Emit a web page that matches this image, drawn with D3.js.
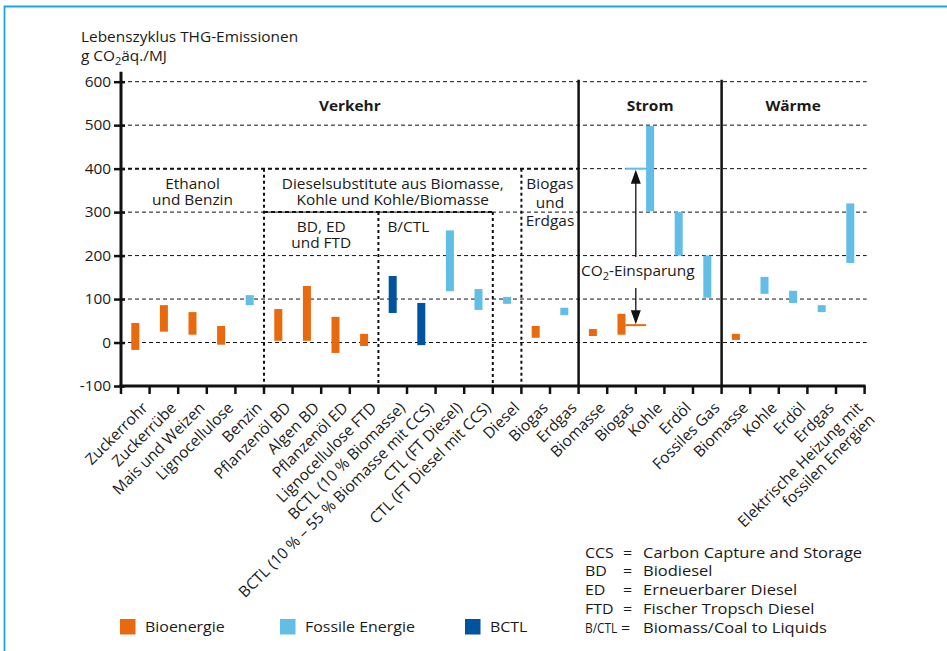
<!DOCTYPE html>
<html><head><meta charset="utf-8">
<script src="https://cdn.jsdelivr.net/npm/d3@7"></script>
<style>
body{margin:0;background:#fff;}
svg{display:block;}
text{font-family:"Open Sans",sans-serif;fill:#1a1a1a;}
</style></head><body>
<svg id="c" width="947" height="651"></svg>
<script>
// ---------- data ----------
const categories = ["Zuckerrohr","Zuckerrübe","Mais und Weizen","Lignocellulose","Benzin",
  "Pflanzenöl BD","Algen BD","Pflanzenöl ED","Lignocellulose FTD",
  "BCTL (10 % Biomasse)","BCTL (10 % – 55 % Biomasse mit CCS)","CTL (FT Diesel)","CTL (FT Diesel mit CCS)",
  "Diesel","Biogas","Erdgas",
  "Biomasse","Biogas","Kohle","Erdöl","Fossiles Gas",
  "Biomasse","Kohle","Erdöl","Erdgas","Elektrische Heizung mit|fossilen Energien"];
const lowValues  = [-17, 25, 18, -5, 86,   4,  4, -24, -8,  68, -6, 118, 75,  89,  11, 63,  15, 18, 302, 200, 103,   6, 112,  91, 70, 183];
const highValues = [ 45, 86, 70, 38, 109, 77, 130, 59, 20, 153, 91, 258, 123, 105, 38, 80,  31, 66, 498, 300, 200,  20, 151, 119, 86, 320];
const energyType = ["bio","bio","bio","bio","fossil","bio","bio","bio","bio","bctl","bctl","fossil","fossil","fossil","bio","fossil",
  "bio","bio","fossil","fossil","fossil","bio","fossil","fossil","fossil","fossil"];
const yTicks = [600,500,400,300,200,100,0,-100];
const sections = [{label:"Verkehr",from:0,to:16},{label:"Strom",from:16,to:21},{label:"Wärme",from:21,to:26}];
const groupLabels = [
  {text:"Ethanol|und Benzin", from:0, to:5, level:400},
  {text:"Dieselsubstitute aus Biomasse,|Kohle und Kohle/Biomasse", from:5, to:14, level:400},
  {text:"BD, ED|und FTD", from:5, to:9, level:300},
  {text:"B/CTL", from:9, to:13, level:300, left:true},
  {text:"Biogas|und|Erdgas", from:14, to:16, level:400, lh:"1.35em"}
];
const boxHLines = [[0,16,400],[5,13,300]];
const boxVLines = [[5,400],[9,300],[13,300],[14,400]];
const savingsIndex = 17, savingsFossil = 400, savingsBio = 40;
const legendItems = [{key:"bio",label:"Bioenergie"},{key:"fossil",label:"Fossile Energie"},{key:"bctl",label:"BCTL"}];
const abbreviations = [["CCS","Carbon Capture and Storage"],["BD","Biodiesel"],["ED","Erneuerbarer Diesel"],["FTD","Fischer Tropsch Diesel"],["B/CTL","Biomass/Coal to Liquids"]];
const colors = {bio:"#e9690f", fossil:"#62bee6", bctl:"#00539f"};

// ---------- layout ----------
const SX = 1.1;
const svg = d3.select("#c");
const pLeft = 121, pRight = 864.6, pTop = 81.7, pBottom = 386;
const x = d3.scaleBand().domain(d3.range(categories.length)).range([pLeft,pRight]).paddingInner(0).paddingOuter(0);
const bw = x.bandwidth();
const xb = i => pLeft + i*bw;
const y = d3.scaleLinear().domain([-100,600]).range([pBottom,pTop]);
const barW = bw*0.28;

function txt(parent,px,py,str,o={}){
  const sx = o.sx===undefined ? SX : o.sx;
  const g = parent.append("g").attr("transform",`translate(${px},${py}) scale(${sx},1)` + (o.rotate?` rotate(${o.rotate})`:""));
  const t = g.append("text").attr("text-anchor",o.anchor||"start").style("font-size",(o.size||14)+"px");
  if(o.weight) t.style("font-weight",o.weight);
  str.split("|").forEach((l,i)=>{ t.append("tspan").attr("x",0).attr("dy", i===0 ? (o.dy||"0") : (o.lh||"1.15em")).text(l); });
  return t;
}

// border
svg.append("path").attr("d","M4.5,651 V6.5 H947").attr("fill","none").attr("stroke","#1aa7e0").attr("stroke-width",1.8);

// title
txt(svg,81,41.7,"Lebenszyklus THG-Emissionen");
const t2 = svg.append("g").attr("transform",`translate(81,60.7) scale(${SX},1)`).append("text").style("font-size","14px");
t2.append("tspan").text("g CO");
t2.append("tspan").attr("dy",4).style("font-size","10px").text("2");
t2.append("tspan").attr("dy",-4).text("äq./MJ");

// gridlines
svg.append("g").selectAll("line").data(yTicks.filter(d=>d>-100)).join("line")
  .attr("x1",pLeft).attr("x2",pRight+2).attr("y1",d=>y(d)).attr("y2",d=>y(d))
  .attr("stroke","#111").attr("stroke-width",1).attr("stroke-dasharray","4,3");

// group box lines
svg.append("g").selectAll("line").data(boxHLines).join("line")
  .attr("x1",d=>xb(d[0])).attr("x2",d=>xb(d[1])).attr("y1",d=>y(d[2])).attr("y2",d=>y(d[2]))
  .attr("stroke","#111").attr("stroke-width",2).attr("stroke-dasharray","4,3");
svg.append("g").selectAll("line").data(boxVLines).join("line")
  .attr("x1",d=>xb(d[0])).attr("x2",d=>xb(d[0])).attr("y1",d=>y(d[1])).attr("y2",pBottom)
  .attr("stroke","#111").attr("stroke-width",2).attr("stroke-dasharray","3,3");

// section separators
svg.append("g").selectAll("line").data(sections.slice(1)).join("line")
  .attr("x1",d=>xb(d.from)).attr("x2",d=>xb(d.from)).attr("y1",pTop-2).attr("y2",pBottom)
  .attr("stroke","#111").attr("stroke-width",2.5);

sections.forEach(s=>txt(svg,(xb(s.from)+xb(s.to))/2,110.5,s.label,{anchor:"middle",weight:"bold",size:14}));

groupLabels.forEach(gl=>{
  const yy = y(gl.level) + 20;
  if(gl.left) txt(svg,xb(gl.from)+9,yy,gl.text);
  else txt(svg,(xb(gl.from)+xb(gl.to))/2, yy, gl.text,{anchor:"middle",lh: gl.lh||"1.15em"});
});

// bars
svg.append("g").selectAll("rect").data(categories.map((c,i)=>i)).join("rect")
  .attr("x",i=>x(i)+bw/2-barW/2).attr("width",barW)
  .attr("y",i=>y(highValues[i])).attr("height",i=>y(lowValues[i])-y(highValues[i]))
  .attr("fill",i=>colors[energyType[i]]);

// savings annotation
const ax1 = x(savingsIndex)+bw/2+barW/2, ax2 = x(savingsIndex+1)+bw/2-barW/2, axm = (ax1+ax2)/2;
svg.append("line").attr("x1",ax1).attr("x2",ax2).attr("y1",y(savingsFossil)).attr("y2",y(savingsFossil)).attr("stroke",colors.fossil).attr("stroke-width",2);
svg.append("line").attr("x1",ax1).attr("x2",ax2).attr("y1",y(savingsBio)).attr("y2",y(savingsBio)).attr("stroke",colors.bio).attr("stroke-width",2);
const tb = 276;
svg.append("line").attr("x1",axm).attr("x2",axm).attr("y1",y(savingsFossil)+12).attr("y2",tb-19).attr("stroke","#111").attr("stroke-width",1.3);
svg.append("line").attr("x1",axm).attr("x2",axm).attr("y1",tb+12).attr("y2",y(savingsBio)-12).attr("stroke","#111").attr("stroke-width",1.3);
svg.append("path").attr("d",`M${axm},${y(savingsFossil)+1} l-5,14 h10 z`).attr("fill","#111");
svg.append("path").attr("d",`M${axm},${y(savingsBio)-1} l-5,-14 h10 z`).attr("fill","#111");
const ct = svg.append("g").attr("transform",`translate(${axm+2},${tb}) scale(${SX},1)`).append("text").attr("text-anchor","middle").style("font-size","14px");
ct.append("tspan").text("CO");
ct.append("tspan").attr("dy",4).style("font-size","10px").text("2");
ct.append("tspan").attr("dy",-4).text("-Einsparung");

// y axis
const yAxis = svg.append("g").attr("transform",`translate(${pLeft},0)`)
  .call(d3.axisLeft(y).tickValues(yTicks).tickSize(6).tickPadding(6).tickFormat(d=>String(d)));
yAxis.select(".domain").remove();
yAxis.selectAll(".tick line").attr("x1",-7).attr("x2",4).attr("stroke","#111").attr("stroke-width",2.5);
yAxis.selectAll(".tick text").attr("transform",`scale(${SX},1)`).attr("x",-9).style("font-size","14px").style("font-family","'Open Sans',sans-serif").attr("fill","#1a1a1a");
svg.append("line").attr("x1",pLeft).attr("x2",pLeft).attr("y1",pTop-10).attr("y2",pBottom+1).attr("stroke","#111").attr("stroke-width",3);

// x axis
svg.append("line").attr("x1",pLeft-1.5).attr("x2",pRight+1).attr("y1",pBottom).attr("y2",pBottom).attr("stroke","#111").attr("stroke-width",3);
svg.append("g").selectAll("line").data(d3.range(categories.length+1)).join("line")
  .attr("x1",xb).attr("x2",xb).attr("y1",pBottom).attr("y2",pBottom+8).attr("stroke","#111").attr("stroke-width",2.5);
categories.forEach((c,i)=>{
  txt(svg, x(i)+bw/2+9.5, pBottom+19, c, {anchor:"end", rotate:-45, dy:"0.35em", lh:"1.1em", size:15.5, sx:1});
});

// legend
legendItems.forEach((d,i)=>{
  const lx = [120,280,465][i];
  svg.append("rect").attr("x",lx).attr("y",619).attr("width",15.5).attr("height",15.5).attr("fill",colors[d.key]);
  txt(svg,lx+25,632,d.label,{size:14.5});
});

// abbreviations
abbreviations.forEach((a,i)=>{
  const yy = 557.5 + i*18.75;
  const isLong = a[0].length > 3;
  txt(svg,585,yy,a[0],{size:14.5, sx: isLong ? 0.82 : SX});
  txt(svg,isLong?621:623,yy,"=",{size:14.5});
  txt(svg,643,yy,a[1],{size:15});
});
</script></body></html>
